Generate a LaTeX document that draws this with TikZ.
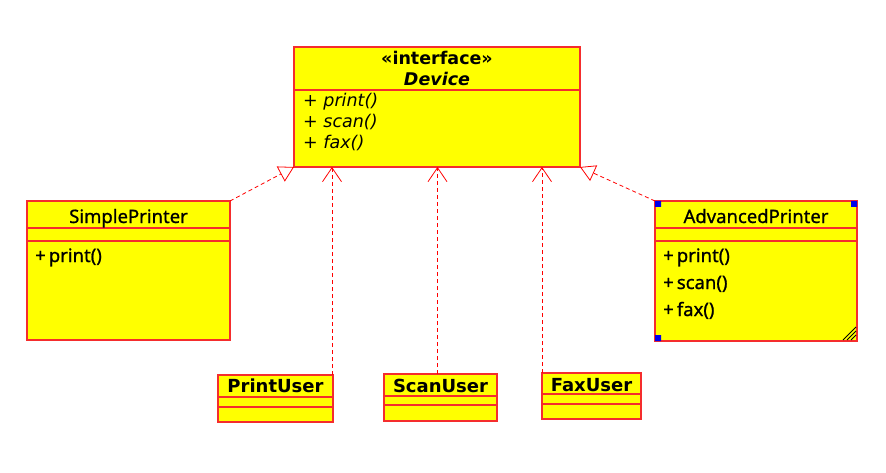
\documentclass[tikz,border=0pt]{standalone}
\usepackage{fontspec}
\usepackage{tikz}
\usetikzlibrary{arrows.meta,calc}
\newfontfamily\dejavu{DejaVu Sans}
\newfontfamily\notosans[FakeBold=0.9]{Noto Sans}
\definecolor{umlfill}{RGB}{255,255,0}
\definecolor{umlline}{RGB}{245,45,45}
\definecolor{handle}{RGB}{0,0,235}
\tikzset{
  classbox/.style={draw=umlline, fill=umlfill, line width=1.1pt, inner sep=0pt, outer sep=0pt},
  divider/.style={draw=umlline, line width=1.1pt},
  ifacetext/.style={font=\dejavu\fontsize{17.5}{20}\selectfont, inner sep=0pt},
  usertext/.style={font=\dejavu\bfseries\fontsize{18}{21}\selectfont, inner sep=0pt, anchor=base},
  printertext/.style={font=\notosans\fontsize{18.5}{21}\selectfont, inner sep=0pt},
  realize/.style={draw=red, line width=0.8pt, dash pattern=on 4pt off 3pt,
    -{Triangle[open, length=15pt, width=17pt, line width=0.8pt]}},
  uses/.style={draw=red, line width=0.8pt, dash pattern=on 4pt off 3pt,
    -{Straight Barb[length=14pt, width=19pt, line width=0.8pt]}}
}

\begin{document}
\begin{tikzpicture}[x=1pt, y=-1pt]
\useasboundingbox (0,0) rectangle (886,473);
% interface
\node[classbox, anchor=north west, minimum width=286pt, minimum height=120pt] (device) at (294,47) {};
\draw[divider] ($(device.north west)+(0,43)$) -- ($(device.north east)+(0,43)$);
\node[ifacetext, anchor=base, font=\dejavu\bfseries\fontsize{17.5}{20}\selectfont] (stereo) at (437,65) {«interface»};
\node[ifacetext, anchor=base, font=\dejavu\bfseries\itshape\fontsize{17.5}{20}\selectfont] (devname) at (437,86) {Device};
\node[ifacetext, anchor=base west] (devprint) at (303,107) {+ \itshape print()};
\node[ifacetext, anchor=base west] (devscan) at (303,128) {+ \itshape scan()};
\node[ifacetext, anchor=base west] (devfax) at (303,149) {+ \itshape fax()};
% printers
\node[classbox, anchor=north west, minimum width=203pt, minimum height=139pt] (simple) at (27,201) {};
\draw[divider] ($(simple.north west)+(0,27)$) -- ($(simple.north east)+(0,27)$)
  ($(simple.north west)+(0,40)$) -- ($(simple.north east)+(0,40)$);
\node[printertext, anchor=base] (simplename) at (128.5,223) {SimplePrinter};
\node[printertext, anchor=base west] (simpleprint) at (35,262) {+\,print()};
\node[classbox, anchor=north west, minimum width=202pt, minimum height=140pt] (advanced) at (655,201) {};
\draw[divider] ($(advanced.north west)+(0,27)$) -- ($(advanced.north east)+(0,27)$)
  ($(advanced.north west)+(0,40)$) -- ($(advanced.north east)+(0,40)$);
\node[printertext, anchor=base] (advname) at (756,223) {AdvancedPrinter};
\node[printertext, anchor=base west] (advprint) at (663,262) {+\,print()};
\node[printertext, anchor=base west] (advscan) at (663,289) {+\,scan()};
\node[printertext, anchor=base west] (advfax) at (663,316) {+\,fax()};
\fill[handle] (advanced.north west) rectangle ++(6,6)
  (advanced.north east) rectangle ++(-6,6)
  (advanced.south west) rectangle ++(6,-6);
\foreach \d in {13,9,5}
  \draw[black, line width=0.8pt] ($(advanced.south east)+(-1-\d,-1)$) -- ($(advanced.south east)+(-1,-1-\d)$);
% users
\node[classbox, anchor=north west, minimum width=115pt, minimum height=47pt] (printuser) at (218,375) {};
\draw[divider] ($(printuser.north west)+(0,22)$) -- ($(printuser.north east)+(0,22)$)
  ($(printuser.north west)+(0,32)$) -- ($(printuser.north east)+(0,32)$);
\node[usertext] (printusername) at (275.5,392) {PrintUser};
\node[classbox, anchor=north west, minimum width=113pt, minimum height=47pt] (scanuser) at (384,374) {};
\draw[divider] ($(scanuser.north west)+(0,22)$) -- ($(scanuser.north east)+(0,22)$)
  ($(scanuser.north west)+(0,31)$) -- ($(scanuser.north east)+(0,31)$);
\node[usertext] (scanusername) at (440.5,392) {ScanUser};
\node[classbox, anchor=north west, minimum width=99pt, minimum height=46pt] (faxuser) at (542,373) {};
\draw[divider] ($(faxuser.north west)+(0,21)$) -- ($(faxuser.north east)+(0,21)$)
  ($(faxuser.north west)+(0,31)$) -- ($(faxuser.north east)+(0,31)$);
\node[usertext] (faxusername) at (591.5,391) {FaxUser};
% relations
\draw[realize] (simple.north east) -- (device.south west);
\draw[realize] (advanced.north west) -- (device.south east);
\draw[uses] ($(printuser.north east)+(-1,0)$) -- ($(printuser.north east |- device.south)+(-1,0)$);
\draw[uses] ($(device.south |- scanuser.north)+(0.5,0)$) -- ($(device.south)+(0.5,0)$);
\draw[uses] (faxuser.north west) -- (faxuser.north west |- device.south);
\end{tikzpicture}
\end{document}
